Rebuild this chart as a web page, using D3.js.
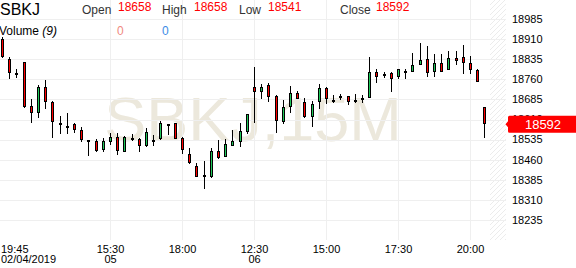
<!DOCTYPE html>
<html><head><meta charset="utf-8">
<script src="https://cdn.jsdelivr.net/npm/d3@7"></script>
<style>
html,body{margin:0;padding:0;background:#fff;}
svg{display:block;font-family:"Liberation Sans",Arial,sans-serif;}
</style></head>
<body><svg id="c" width="576" height="268"></svg>
<script>
const symbol = "SBKJ";
const watermark = "SBKJ,15M";
const opens  = [18910,18835,18783,18823,18660,18633,18731,18675,18597,18585,18593,18570,18532,18529,18496,18525,18544,18488,18542,18537,18512,18535,18537,18592,18597,18541,18480,18438,18403,18394,18492,18469,18512,18527,18565,18730,18712,18739,18697,18600,18655,18708,18674,18618,18676,18726,18683,18699,18697,18683,18682,18691,18786,18771,18784,18767,18792,18786,18812,18835,18786,18821,18794,18838,18843,18820,18794,18658];
const highs  = [18918,18844,18797,18825,18685,18739,18757,18679,18623,18633,18597,18582,18534,18537,18542,18561,18561,18548,18555,18540,18577,18553,18604,18595,18597,18544,18502,18449,18455,18502,18532,18536,18571,18596,18630,18805,18741,18746,18701,18683,18734,18717,18689,18678,18741,18731,18700,18704,18697,18704,18700,18842,18797,18786,18788,18797,18800,18857,18894,18883,18853,18853,18865,18865,18887,18846,18798,18658];
const lows   = [18840,18760,18766,18654,18598,18617,18648,18540,18557,18557,18561,18525,18475,18490,18490,18515,18479,18487,18530,18490,18508,18511,18533,18552,18538,18482,18444,18397,18350,18391,18461,18469,18512,18508,18555,18596,18686,18674,18561,18592,18633,18685,18614,18583,18649,18667,18670,18683,18664,18670,18671,18691,18745,18764,18714,18760,18760,18786,18812,18770,18768,18786,18794,18812,18779,18779,18749,18541];
const closes = [18843,18782,18778,18658,18633,18732,18674,18602,18588,18585,18570,18532,18532,18494,18530,18545,18494,18546,18542,18512,18562,18535,18597,18592,18538,18497,18447,18397,18394,18492,18467,18519,18530,18567,18629,18712,18731,18695,18604,18657,18708,18685,18620,18667,18726,18686,18683,18693,18674,18683,18691,18786,18770,18779,18760,18797,18792,18813,18832,18782,18821,18786,18838,18829,18820,18794,18749,18592];
const priceTicks = [18985,18910,18835,18760,18685,18610,18535,18460,18385,18310,18235];
const timeTickIndex = [0,15,25,35,45,55,65];
const timeTickLabel = ["19:45","15:30","18:00","12:30","15:00","17:30","20:00"];
const dateTickLabel = ["02/04/2019","05","","06","","",""];
const lastOpen = 18658, lastHigh = 18658, lastLow = 18541, lastClose = 18592;
const volumeUp = 0, volumeDown = 0;

const svg = d3.select("#c");
const W = 576, H = 268;
const plotRight = 506, plotBottom = 240;
const x = d3.scaleLinear().domain([0, 67]).range([2, 484.4]);
const y = d3.scaleLinear().domain([18235, 18985]).range([220, 19]);

// hatch pattern
const defs = svg.append("defs");
const pat = defs.append("pattern").attr("id","hatch").attr("patternUnits","userSpaceOnUse")
  .attr("width",5).attr("height",5);
pat.append("path").attr("d","M-1,1 l2,-2 M0,5 l5,-5 M4,6 l2,-2").attr("stroke","#ececec").attr("stroke-width",1);
svg.append("rect").attr("x",490).attr("y",0).attr("width",plotRight-490).attr("height",plotBottom).attr("fill","url(#hatch)");

// watermark
svg.append("text").attr("x",253).attr("y",141).attr("text-anchor","middle")
  .attr("font-size",63).attr("fill","#ece8dc").text(watermark);

// grid
const grid = svg.append("g").attr("shape-rendering","crispEdges");
grid.selectAll("line.h").data(priceTicks).join("line").attr("class","h")
  .attr("x1",0).attr("x2",plotRight).attr("y1",d=>Math.round(y(d))+0.5).attr("y2",d=>Math.round(y(d))+0.5)
  .attr("stroke","#efefef");
grid.selectAll("line.v").data(timeTickIndex.slice(1)).join("line").attr("class","v")
  .attr("x1",d=>Math.round(x(d))+0.5).attr("x2",d=>Math.round(x(d))+0.5).attr("y1",0).attr("y2",plotBottom)
  .attr("stroke","#efefef");

// right axis labels
const ax = svg.append("g").attr("font-size",11).attr("fill","#000");
ax.selectAll("text").data(priceTicks).join("text")
  .attr("x",512).attr("y",d=>y(d)).attr("dy","0.35em").text(d=>d);

// x-axis labels
const xl = svg.append("g").attr("font-size",11).attr("fill","#000");
timeTickIndex.forEach((idx,k)=>{
  const px = Math.round(x(idx));
  const anchor = k===0 ? "start" : "middle";
  const tx = k===0 ? 1 : px+0.5;
  xl.append("text").attr("x",tx).attr("y",253).attr("text-anchor",anchor).text(timeTickLabel[k]);
  if (dateTickLabel[k]) xl.append("text").attr("x",tx).attr("y",263).attr("text-anchor",anchor).text(dateTickLabel[k]);
});

// candles
const data = opens.map((o,i)=>({i,o,h:highs[i],l:lows[i],c:closes[i]}));
const cg = svg.append("g").attr("shape-rendering","crispEdges");
data.forEach(d=>{
  const cx = Math.round(x(d.i));
  const g = cg.append("g");
  g.append("rect").attr("x",cx).attr("width",1)
    .attr("y",Math.round(y(d.h))).attr("height",Math.max(1,Math.round(y(d.l))-Math.round(y(d.h))))
    .attr("fill","#000");
  const top = Math.round(y(Math.max(d.o,d.c)));
  let bot = Math.round(y(Math.min(d.o,d.c)));
  if (bot-top < 2) bot = top+2;
  g.append("rect").attr("x",cx-1).attr("width",3).attr("y",top).attr("height",bot-top).attr("fill","#000");
  if (bot-top > 2) {
    g.append("rect").attr("x",cx).attr("width",1).attr("y",top+1).attr("height",bot-top-2)
      .attr("fill", d.c>=d.o ? "#1ec85a" : "#ff0000");
  }
});

// price tag
const ty = y(lastClose);
svg.append("path")
  .attr("d",`M505.5,${ty} L508,${ty-3} L508,${ty-7} Q508,${ty-8.5} 509.5,${ty-8.5} L576,${ty-8.5} L576,${ty+8.5} L509.5,${ty+8.5} Q508,${ty+8.5} 508,${ty+7} L508,${ty+3} Z`)
  .attr("fill","#ff0000");
svg.append("text").attr("x",543).attr("y",ty).attr("dy","0.36em").attr("text-anchor","middle")
  .attr("font-size",13).attr("fill","#fff").text(lastClose);

// header
const hd = svg.append("g");
hd.append("text").attr("x",0).attr("y",15).attr("font-size",16).attr("fill","#000").text(symbol);
const hdr = [["Open",82,lastOpen,118],["High",162,lastHigh,194],["Low",239,lastLow,268],["Close",340,lastClose,376]];
hdr.forEach(([lab,lx,val,vx])=>{
  hd.append("text").attr("x",lx).attr("y",14).attr("font-size",12).attr("fill","#333").text(lab);
  hd.append("text").attr("x",vx).attr("y",11).attr("font-size",12).attr("fill","#ff0000").text(val);
});
const vt = hd.append("text").attr("x",-1).attr("y",35).attr("font-size",12).attr("fill","#000");
vt.append("tspan").text("Volume ");
vt.append("tspan").attr("font-style","italic").text("(9)");
hd.append("text").attr("x",117).attr("y",35).attr("font-size",12).attr("fill","#f08a80").text(volumeDown);
hd.append("text").attr("x",162).attr("y",35).attr("font-size",12).attr("fill","#3d8be6").text(volumeUp);
</script></body></html>
